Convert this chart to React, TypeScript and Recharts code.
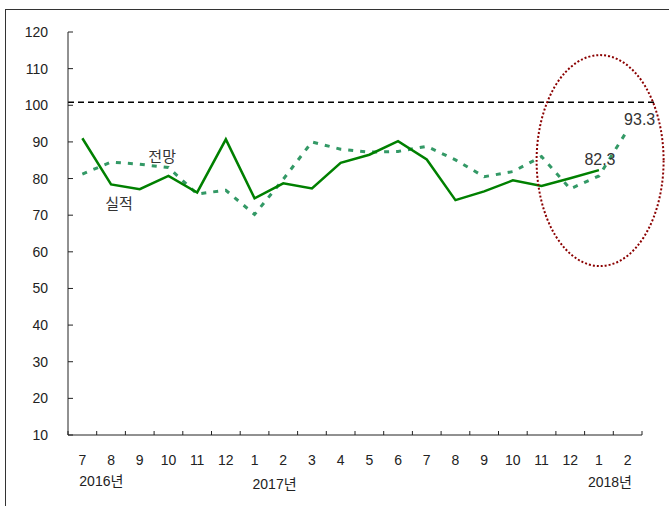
import React from 'react';
import { LineChart, Line, XAxis, YAxis, ReferenceLine, ReferenceDot, LabelList } from 'recharts';

// month labels along the x axis (2016.7 ~ 2018.2)
const months = ['7', '8', '9', '10', '11', '12', '1', '2', '3', '4', '5', '6', '7', '8', '9', '10', '11', '12', '1', '2'];
const actual = [91.0, 78.4, 77.1, 80.7, 76.2, 90.7, 74.6, 78.7, 77.3, 84.3, 86.5, 90.2, 85.2, 74.1, 76.5, 79.5, 78.0, 80.1, 82.3, null];
const forecast = [81.2, 84.5, 83.9, 83.0, 75.8, 76.8, 70.2, 79.8, 90.0, 88.0, 87.2, 87.4, 88.8, 85.1, 80.5, 81.9, 86.0, 77.2, 80.7, 93.3];
const yTicks = [10, 20, 30, 40, 50, 60, 70, 80, 90, 100, 110, 120];
const yearLabels = [
    { index: 0, label: '2016년', dx: 19, dy: 46 },
    { index: 6, label: '2017년', dx: 20, dy: 49 },
    { index: 18, label: '2018년', dx: 11, dy: 47 },
];
const baseline = 100.8;
const labelled = { actual: 18, forecast: 19 };
const annotations = [
    { x: 3.28, y: 86.1, text: '전망' },
    { x: 1.78, y: 73.3, text: '실적' },
];
const highlight = { x: 18.54, y: 84.9 };

const data = months.map((m, i) => ({ pos: i + 0.5, month: m, actual: actual[i], forecast: forecast[i] }));
const xTicks = Array.from({ length: months.length + 1 }, (_, i) => i);

const W = 663;
const H = 496;
const M = { top: 22, right: 27, bottom: 11, left: 12 };
const Y_W = 50;
const HALF = (W - M.left - M.right - Y_W) / months.length / 2;
const FONT = "'Liberation Sans', 'Noto Sans CJK KR', sans-serif";

const MonthTick = (props: any) => {
    const { x, y, payload } = props;
    const i = payload.value;
    if (i >= months.length) return null;
    const year = yearLabels.find(d => d.index === i);
    return (
        <g>
            <text x={x + HALF} y={y + 25} textAnchor="middle" dominantBaseline="central" fontSize={14} fill="#222" fontFamily={FONT}>
                {months[i]}
            </text>
            {year && (
                <text x={x + HALF + year.dx} y={y + year.dy} textAnchor="middle" dominantBaseline="central" fontSize={14} fill="#222" fontFamily={FONT}>
                    {year.label}
                </text>
            )}
        </g>
    );
};

const valueLabel = (target: number, dx: number, dy: number) => (props: any) => {
    const { x, y, index, value } = props;
    if (index !== target) return null;
    return (
        <text x={x + dx} y={y + dy} textAnchor="middle" dominantBaseline="central" fontSize={16} fill="#333" fontFamily={FONT}>
            {value}
        </text>
    );
};

const App = () => {
    return (
        <div style={{ position: 'absolute', left: 5, top: 9, width: 664, height: 497, borderLeft: '1px solid #333', borderTop: '1px solid #333', boxSizing: 'border-box' }}>
            <LineChart width={W} height={H} data={data} margin={M} style={{ fontFamily: FONT }}>
                <XAxis
                    dataKey="pos"
                    type="number"
                    domain={[0, months.length]}
                    ticks={xTicks}
                    interval={0}
                    tickSize={-4}
                    tickMargin={4}
                    height={60}
                    stroke="#222"
                    tick={<MonthTick />}
                />
                <YAxis
                    type="number"
                    domain={[10, 120]}
                    ticks={yTicks}
                    interval={0}
                    width={Y_W}
                    tickSize={-5}
                    tickMargin={25}
                    stroke="#222"
                    tick={{ fill: '#222', fontSize: 14 }}
                />
                <ReferenceLine
                    y={baseline}
                    ifOverflow="visible"
                    shape={(p: any) => (
                        <line x1={p.x1} y1={p.y1} x2={p.x2 + 15} y2={p.y2} stroke="#000" strokeWidth={1.5} strokeDasharray="6 4" />
                    )}
                />
                <Line
                    dataKey="forecast"
                    stroke="#339966"
                    strokeWidth={3}
                    strokeDasharray="5 7"
                    dot={false}
                    isAnimationActive={false}
                >
                    <LabelList dataKey="forecast" content={valueLabel(labelled.forecast, 12, -10)} />
                </Line>
                <Line
                    dataKey="actual"
                    stroke="#008000"
                    strokeWidth={2.5}
                    dot={false}
                    isAnimationActive={false}
                >
                    <LabelList dataKey="actual" content={valueLabel(labelled.actual, 1, -11)} />
                </Line>
                {annotations.map(a => (
                    <ReferenceDot
                        key={a.text}
                        x={a.x}
                        y={a.y}
                        ifOverflow="visible"
                        shape={(p: any) => (
                            <text x={p.cx} y={p.cy} textAnchor="middle" dominantBaseline="central" fontSize={15} fill="#333" fontFamily={FONT}>
                                {a.text}
                            </text>
                        )}
                    />
                ))}
                <ReferenceDot
                    x={highlight.x}
                    y={highlight.y}
                    ifOverflow="visible"
                    shape={(p: any) => (
                        <ellipse cx={p.cx} cy={p.cy} rx={63.5} ry={105.5} fill="none" stroke="#8b0000" strokeWidth={2} strokeDasharray="2 2" />
                    )}
                />
            </LineChart>
        </div>
    );
};

export default App;
